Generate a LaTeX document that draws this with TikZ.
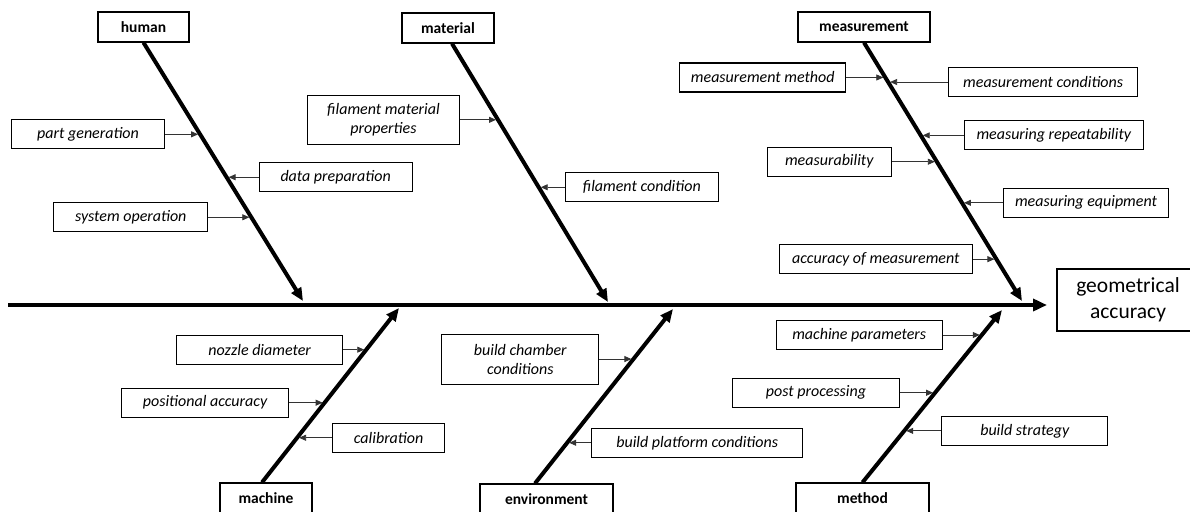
\documentclass[tikz,border=0pt]{standalone}
\usepackage{fontspec}
\setmainfont{Carlito}
\usetikzlibrary{arrows.meta,positioning}

\begin{document}
\begin{tikzpicture}[x=1pt,y=-1pt,
  cat/.style={draw, line width=1.2pt, font=\fontsize{15.5}{18}\selectfont\bfseries, minimum height=30, inner sep=0pt},
  cause/.style={draw, line width=1.1pt, font=\fontsize{16}{19}\selectfont\itshape, minimum height=29, inner sep=0pt, align=center},
  bone/.style={line width=4pt, -{Triangle[length=13pt,width=11pt]}},
  feed/.style={line width=0.8pt, black!80, -{Triangle[length=7pt,width=6pt]}, shorten >=2pt}]
\clip (0,0) rectangle (1190,511);

% effect and spine
\node[draw, line width=1.2pt, font=\fontsize{21.5}{26}\selectfont, align=center, minimum width=142, minimum height=62, inner sep=0pt] (acc) at (1128,300) {geometrical\\ accuracy};
\coordinate (tail) at (8,305);
\coordinate (head) at (1047,305);
\draw[line width=4pt, -{Triangle[length=14pt,width=12pt]}] (tail) -- (head);

% main causes
\node[cat, minimum width=91] (human) at (143.5,27) {human};
\node[cat, minimum width=92] (material) at (448,28) {material};
\node[cat, minimum width=132] (measurement) at (864,27) {measurement};
\node[cat, minimum width=92] (machine) at (266,498) {machine};
\node[cat, minimum width=133] (environment) at (546.5,499) {environment};
\node[cat, minimum width=133] (method) at (862.5,498) {method};

\coordinate (htip) at (303,301);
\coordinate (mtip) at (608,302);
\coordinate (stip) at (1022,301);
\coordinate (ctip) at (399,308);
\coordinate (etip) at (673,309);
\coordinate (dtip) at (1002,310);

\draw[bone] (human.south) -- coordinate[pos=.355] (h1) coordinate[pos=.521] (h2) coordinate[pos=.676] (h3) (htip);
\draw[bone] ([xshift=4pt]material.south) -- coordinate[pos=.295] (m1) coordinate[pos=.556] (m2) (mtip);
\draw[bone] (measurement.south) -- coordinate[pos=.135] (s1) coordinate[pos=.1525] (s2) coordinate[pos=.359] (s3)
  coordinate[pos=.461] (s4) coordinate[pos=.62] (s5) coordinate[pos=.838] (s6) (stip);
\draw[bone] ([xshift=-4pt]machine.north) -- coordinate[pos=.761] (c1) coordinate[pos=.457] (c2) coordinate[pos=.256] (c3) (ctip);
\draw[bone] ([xshift=-11.5pt]environment.north) -- coordinate[pos=.713] (e1) coordinate[pos=.233] (e2) (etip);
\draw[bone] (method.north) -- coordinate[pos=.855] (d1) coordinate[pos=.52] (d2) coordinate[pos=.299] (d3) (dtip);

% human
\node[cause, minimum width=153, left=35pt of h1] (pgen) {part generation};
\node[cause, minimum width=153, right=32pt of h2] (dprep) {data preparation};
\node[cause, minimum width=154, left=43pt of h3] (sysop) {system operation};
\draw[feed] (pgen) -- (h1);
\draw[feed] (dprep) -- (h2);
\draw[feed] (sysop) -- (h3);

% material
\node[cause, minimum width=152, minimum height=49, left=38pt of m1] (fprop) {filament material\\ properties};
\node[cause, minimum width=153, right=26pt of m2] (fcond) {filament condition};
\draw[feed] (fprop) -- (m1);
\draw[feed] (fcond) -- (m2);

% measurement
\node[cause, minimum width=166, left=39pt of s1] (mmeth) {measurement method};
\node[cause, minimum width=189, right=60pt of s2] (mcond) {measurement conditions};
\node[cause, minimum width=179, right=43pt of s3] (mrep) {measuring repeatability};
\node[cause, minimum width=124, left=45pt of s4] (mabil) {measurability};
\node[cause, minimum width=165, right=41pt of s5] (mequip) {measuring equipment};
\node[cause, minimum width=193, left=23.5pt of s6] (macc) {accuracy of measurement};
\draw[feed] (mmeth) -- (s1);
\draw[feed] (mcond) -- (s2);
\draw[feed] (mrep) -- (s3);
\draw[feed] (mabil) -- (s4);
\draw[feed] (mequip) -- (s5);
\draw[feed] (macc) -- (s6);

% machine
\node[cause, minimum width=166, left=23pt of c1] (nozzle) {nozzle diameter};
\node[cause, minimum width=167, left=35.5pt of c2] (posacc) {positional accuracy};
\node[cause, minimum width=112, right=35pt of c3] (calib) {calibration};
\draw[feed] (nozzle) -- (c1);
\draw[feed] (posacc) -- (c2);
\draw[feed] (calib) -- (c3);

% environment
\node[cause, minimum width=157, minimum height=50, left=34pt of e1] (bcham) {build chamber\\ conditions};
\node[cause, minimum width=211, right=24pt of e2] (bplat) {build platform conditions};
\draw[feed] (bcham) -- (e1);
\draw[feed] (bplat) -- (e2);

% method
\node[cause, minimum width=166, left=39pt of d1] (mpar) {machine parameters};
\node[cause, minimum width=167, left=35pt of d2] (post) {post processing};
\node[cause, minimum width=166, right=37pt of d3] (bstrat) {build strategy};
\draw[feed] (mpar) -- (d1);
\draw[feed] (post) -- (d2);
\draw[feed] (bstrat) -- (d3);

\end{tikzpicture}
\end{document}
